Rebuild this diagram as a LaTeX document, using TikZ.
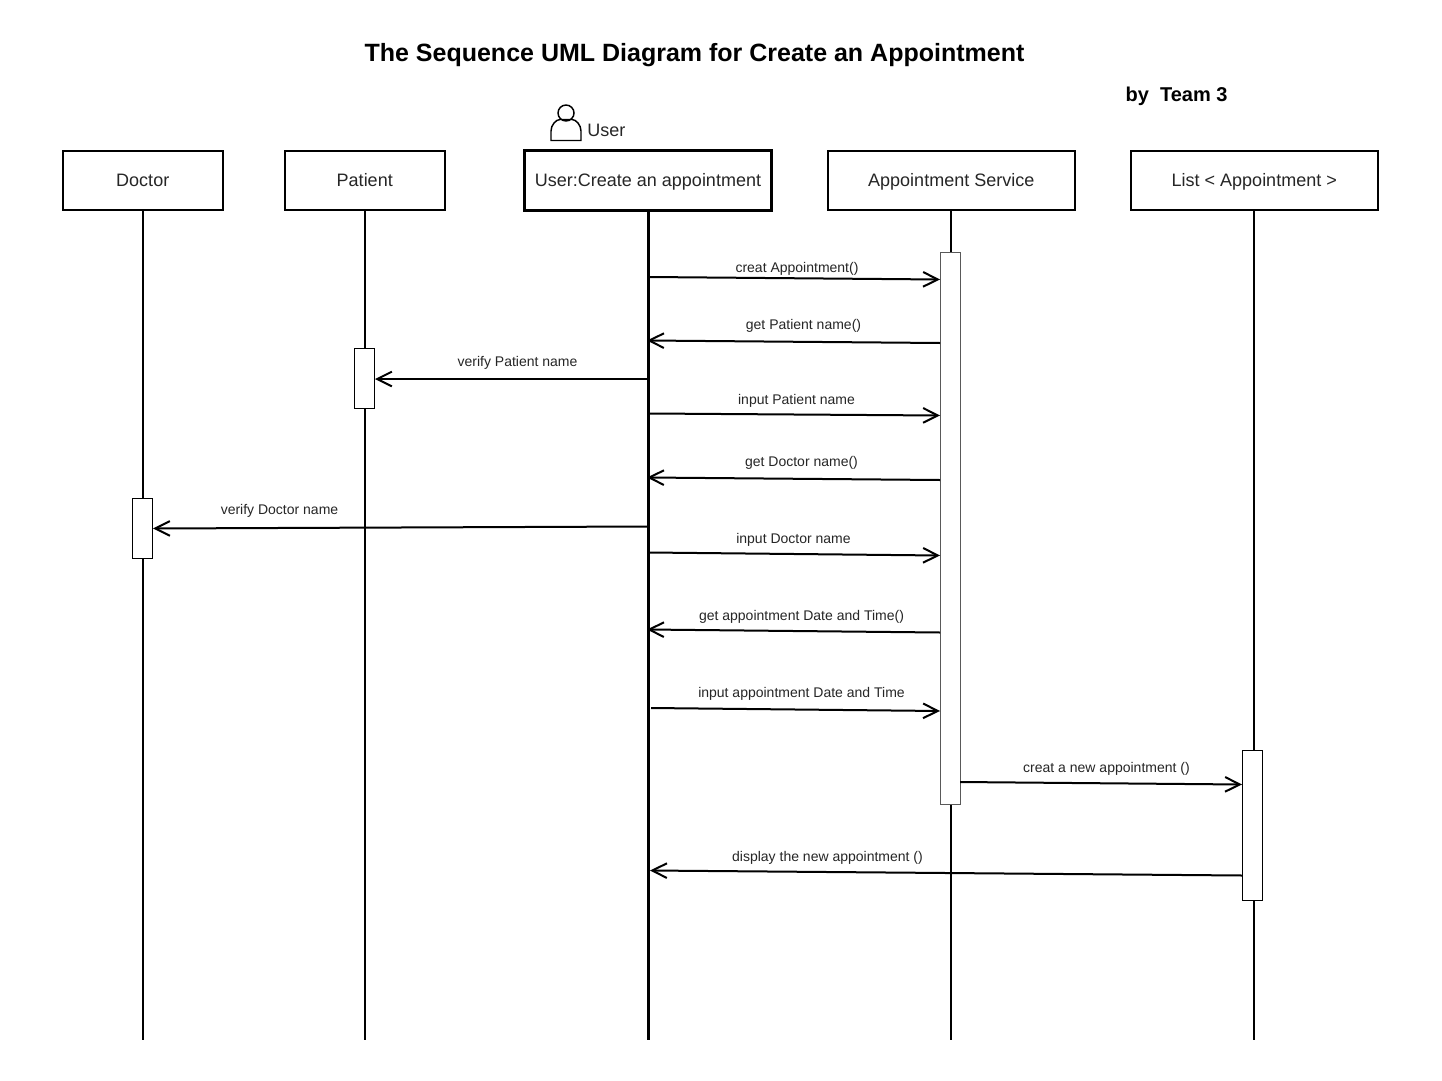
\documentclass[tikz,border=0pt]{standalone}
\usepackage{fontspec}
\setmainfont{Liberation Sans}
\usetikzlibrary{arrows.meta}
\tikzset{
  x=0.75pt,y=-0.75pt,
  headbox/.style={draw,fill=white,line width=1.5pt,minimum height=44.5pt,outer sep=0pt,inner sep=0pt,text height=12pt,text depth=3pt,font=\fontsize{13.5}{16}\selectfont,text=black!85},
  lifeline/.style={line width=1.5pt},
  actbox/.style={draw,fill=white,line width=0.75pt,minimum width=15pt,inner sep=0pt,outer sep=0pt},
  msg/.style={line width=1.5pt,-{Straight Barb[length=11pt,width=11pt,line width=1.5pt]}},
  msglabel/.style={inner sep=0pt,font=\fontsize{10.5}{12}\selectfont,text=black!85},
}
\begin{document}
\begin{tikzpicture}
\useasboundingbox[fill=white] (0,0) rectangle (1442,1081);
% titles
\node[font=\bfseries\fontsize{18.75}{22}\selectfont] (title) at (694.5,55) {The Sequence UML Diagram for Create an Appointment};
\node[font=\bfseries\fontsize{15}{18}\selectfont] (team) at (1176.5,96) {by\ \ Team 3};
% lifeline heads
\node[headbox,minimum width=119.75pt] (doctor) at (142.75,180.5) {Doctor};
\node[headbox,minimum width=119.75pt] (patient) at (364.75,180.5) {Patient};
\node[headbox,minimum width=185.75pt,line width=2.25pt] (user) at (648,180.5) {User:Create an appointment};
\node[headbox,minimum width=185.25pt] (service) at (951.25,180.5) {Appointment Service};
\node[headbox,minimum width=185.25pt] (list) at (1254.25,180.5) {List < Appointment >};
% lifeline ends
\coordinate (doctorEnd) at (doctor.south |- 0,1040);
\coordinate (patientEnd) at (patient.south |- 0,1040);
\coordinate (userEnd) at (user.south |- 0,1040);
\coordinate (serviceEnd) at (service.south |- 0,1040);
\coordinate (listEnd) at (list.south |- 0,1040);
\draw[lifeline] (doctor) -- (doctorEnd);
\draw[lifeline] (patient) -- (patientEnd);
\draw[lifeline,line width=2.25pt] (user) -- (userEnd);
\draw[lifeline] (service) -- (serviceEnd);
\draw[lifeline] (list) -- (listEnd);
% activations
\node[actbox,draw=black!65,minimum height=414pt] (actS) at (950.5,528) {};
\node[actbox,minimum height=45pt] (actP) at (364.5,378.5) {};
\node[actbox,minimum height=45pt] (actD) at (142.75,528.5) {};
\node[actbox,minimum height=112.5pt] (actL) at (1252.5,825.5) {};
% user icon
\node[inner sep=0pt,anchor=west,font=\fontsize{13.5}{16}\selectfont,text=black!85] (userlabel) at (587,130.5) {User};
\draw[line width=1.1pt,fill=white] (566,113) circle[radius=8];
\draw[line width=1.1pt] (551,140.5) -- (581,140.5) -- (581,131)
  .. controls (581,125) and (576,119.5) .. (572,119.5)
  -- (560,119.5) .. controls (556,119.5) and (551,125) .. (551,131) -- cycle;
% messages: start, end
\newcommand{\msgline}[5]{%
  \coordinate (#1a) at (#2,#3);
  \coordinate (#1b) at (#4,#5);
  \draw[msg] (#1a) -- (#1b);
}
\msgline{m1}{649}{277}{940}{279.5}
\msgline{m2}{940}{343}{647}{340.5}
\msgline{m3}{648}{379}{375}{379}
\msgline{m4}{649}{413.5}{940}{415.5}
\msgline{m5}{940}{480}{647}{477.5}
\msgline{m6}{647}{526.5}{153}{528.5}
\msgline{m7}{649}{552.5}{940}{555.5}
\msgline{m8}{940}{632.5}{647}{629.5}
\msgline{m9}{651}{708}{940}{711}
\msgline{m10}{960}{782}{1242}{784.5}
\msgline{m11}{1242}{875.5}{650}{870.5}
% labels
\node[msglabel] (l1) at (797,269) {creat Appointment()};
\node[msglabel] (l2) at (803.5,326) {get Patient name()};
\node[msglabel] (l3) at (517.5,363) {verify Patient name};
\node[msglabel] (l4) at (796.5,401) {input Patient name};
\node[msglabel] (l5) at (801.5,463) {get Doctor name()};
\node[msglabel] (l6) at (279.5,511) {verify Doctor name};
\node[msglabel] (l7) at (793.5,540) {input Doctor name};
\node[msglabel] (l8) at (801.5,617) {get appointment Date and Time()};
\node[msglabel] (l9) at (801.5,694) {input appointment Date and Time};
\node[msglabel] (l10) at (1106.5,769) {creat a new appointment ()};
\node[msglabel] (l11) at (827.5,858) {display the new appointment ()};
\end{tikzpicture}
\end{document}
